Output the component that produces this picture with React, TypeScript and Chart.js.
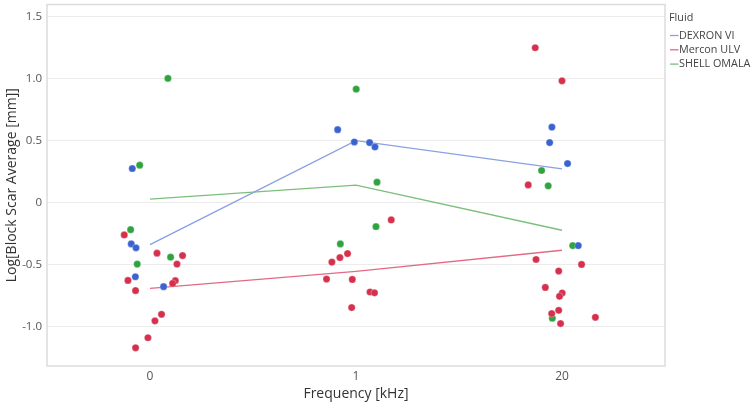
import { useEffect, useRef } from "react";
import { Chart, registerables } from "chart.js";

Chart.register(...registerables);

// Categories (Frequency [kHz]) shown at x = 0, 1, 2
const categories = ["0", "1", "20"];
const categoryPositions = [0, 1, 2];
const fluids = ["DEXRON VI", "Mercon ULV", "SHELL OMALA"];
const yTicks = [-1.0, -0.5, 0, 0.5, 1.0, 1.5];

// DEXRON VI points (jittered category position, value)
const dexronX = [-0.086, -0.091, -0.068, -0.071, 0.066, 0.911, 0.992, 1.066, 1.092, 1.951, 1.94, 2.027, 2.079];
const dexronY = [0.273, -0.335, -0.367, -0.6, -0.68, 0.586, 0.487, 0.482, 0.447, 0.607, 0.482, 0.313, -0.349];

// Mercon ULV points
const merconX = [
  -0.125, 0.034, 0.158, 0.131, -0.107, 0.123, 0.11, -0.07, 0.056, 0.024, -0.01, -0.07,
  1.171, 0.959, 0.922, 0.883, 0.857, 0.982, 1.068, 1.09, 0.979,
  1.87, 2.0, 1.836, 1.874, 2.095, 1.984, 1.919, 2.001, 1.988, 1.984, 1.95, 1.993, 2.162,
];
const merconY = [
  -0.263, -0.41, -0.429, -0.498, -0.63, -0.632, -0.654, -0.712, -0.903, -0.956, -1.092, -1.173,
  -0.142, -0.413, -0.445, -0.482, -0.619, -0.622, -0.723, -0.73, -0.849,
  1.247, 0.98, 0.141, -0.461, -0.501, -0.554, -0.686, -0.731, -0.758, -0.871, -0.897, -0.978, -0.927,
];

// SHELL OMALA points
const shellX = [0.087, -0.05, -0.094, -0.062, 0.1, 1.001, 1.102, 1.097, 0.924, 1.901, 1.933, 2.052, 1.953];
const shellY = [1.0, 0.3, -0.22, -0.498, -0.442, 0.913, 0.163, -0.196, -0.335, 0.257, 0.133, -0.349, -0.935];

// Mean lines per fluid at each category
const dexronMean = [-0.34, 0.498, 0.27];
const merconMean = [-0.694, -0.557, -0.386];
const shellMean = [0.026, 0.139, -0.225];

const pointColors = ["#3a63d1", "#d5304c", "#30a23f"];
const lineColors = ["#8ba0e2", "#e36a84", "#7cbf7c"];

const FONT = "'Open Sans', 'Noto Sans', sans-serif";

function pts(xs: number[], ys: number[]) {
  return xs.map((x, i) => ({ x, y: ys[i] }));
}
function meanPts(ms: number[]) {
  return categoryPositions.map((x, i) => ({ x, y: ms[i] }));
}

const frame = {
  id: "frame",
  beforeDatasetsDraw(chart: any) {
    const { ctx, chartArea } = chart;
    ctx.save();
    ctx.strokeStyle = "#dcdcdc";
    ctx.lineWidth = 1.5;
    ctx.strokeRect(chartArea.left, chartArea.top, chartArea.right - chartArea.left, chartArea.bottom - chartArea.top);
    ctx.restore();
  },
};

const sideLegend = {
  id: "sideLegend",
  afterDraw(chart: any) {
    const { ctx, chartArea } = chart;
    const x0 = chartArea.right + 4;
    const top = chartArea.top;
    ctx.save();
    ctx.font = `10.8px ${FONT}`;
    ctx.textBaseline = "middle";
    ctx.textAlign = "left";
    ctx.fillStyle = "#444";
    ctx.fillText("Fluid", x0, top + 13);
    const lineDs = chart.data.datasets.filter((d: any) => d.type === "line");
    lineDs.forEach((d: any, i: number) => {
      const y = top + 31 + i * 14.3;
      ctx.strokeStyle = d.borderColor;
      ctx.lineWidth = 1.3;
      ctx.beginPath();
      ctx.moveTo(x0 + 1, y);
      ctx.lineTo(x0 + 9.5, y);
      ctx.stroke();
      ctx.fillStyle = "#444";
      ctx.fillText(d.label, x0 + 10, y);
    });
    ctx.restore();
  },
};

export default function App() {
  const ref = useRef<HTMLCanvasElement | null>(null);

  useEffect(() => {
    if (!ref.current) return;
    const pointSets = [pts(dexronX, dexronY), pts(merconX, merconY), pts(shellX, shellY)];
    const means = [dexronMean, merconMean, shellMean];
    const datasets: any[] = [];
    fluids.forEach((f, i) => {
      datasets.push({
        type: "line",
        label: f,
        data: meanPts(means[i]),
        borderColor: lineColors[i],
        backgroundColor: lineColors[i],
        borderWidth: 1.4,
        pointRadius: 0,
        tension: 0,
        order: 2,
      });
    });
    fluids.forEach((f, i) => {
      datasets.push({
        type: "scatter",
        label: f + " points",
        data: pointSets[i],
        backgroundColor: pointColors[i],
        borderColor: "rgba(255,255,255,0.6)",
        borderWidth: 0.5,
        pointRadius: 3.6,
        order: 1,
      });
    });

    const chart = new Chart(ref.current, {
      type: "scatter",
      data: { datasets },
      options: {
        animation: false,
        responsive: false,
        devicePixelRatio: 1,
        layout: { padding: { top: 3, right: 89, left: 0, bottom: 0 } },
        plugins: { legend: { display: false }, tooltip: { enabled: false } },
        scales: {
          x: {
            type: "linear",
            min: -0.5,
            max: 2.5,
            grid: { display: false, drawTicks: false },
            border: { display: false },
            afterBuildTicks: (s: any) => {
              s.ticks = categoryPositions.map((v) => ({ value: v }));
            },
            afterFit: (s: any) => {
              s.height = 39;
              s.paddingLeft = 0;
              s.paddingRight = 0;
            },
            ticks: {
              padding: 3,
              color: "#555",
              font: { family: FONT, size: 12 },
              callback: (v: any) => categories[categoryPositions.indexOf(Number(v))] ?? "",
            },
            title: {
              display: true,
              text: "Frequency [kHz]",
              color: "#333",
              font: { family: FONT, size: 14 },
              padding: { top: 4, bottom: 3 },
            },
          },
          y: {
            type: "linear",
            min: -1.32,
            max: 1.596,
            grid: { color: "#ececec", lineWidth: 1, drawTicks: false },
            border: { display: false },
            afterBuildTicks: (s: any) => {
              s.ticks = yTicks.map((v) => ({ value: v }));
            },
            afterFit: (s: any) => {
              s.width = 47;
              s.paddingTop = 0;
              s.paddingBottom = 0;
            },
            ticks: {
              padding: 5,
              color: "#555",
              font: { family: FONT, size: 11.5 },
              callback: (v: any) => (Number(v) === 0 ? "0" : Number(v).toFixed(1)),
            },
            title: {
              display: true,
              text: "Log[Block Scar Average [mm]]",
              color: "#333",
              font: { family: FONT, size: 14 },
              padding: { top: 4, bottom: 4 },
            },
          },
        },
      },
      plugins: [frame, sideLegend],
    });
    return () => chart.destroy();
  }, []);

  return (
    <div style={{ position: "fixed", left: 0, top: 0, width: 754, height: 405, background: "#fff" }}>
      <canvas ref={ref} width={754} height={405} style={{ width: 754, height: 405, display: "block" }} />
    </div>
  );
}
